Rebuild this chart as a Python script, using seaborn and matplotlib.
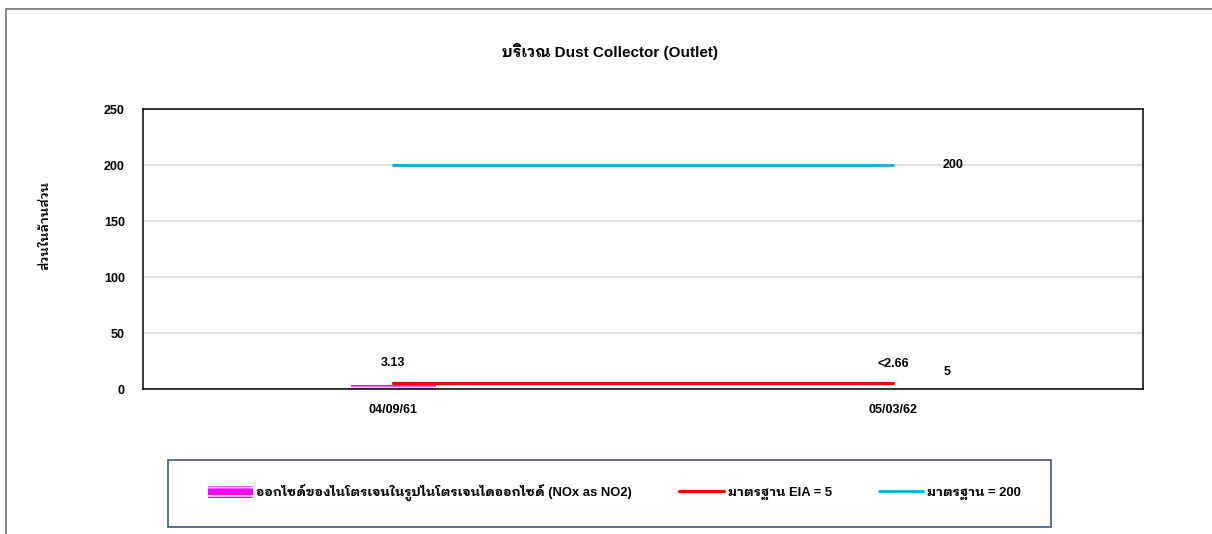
import numpy as np
import pandas as pd
import matplotlib
matplotlib.use("Agg")
import matplotlib.pyplot as plt
from matplotlib.lines import Line2D
from matplotlib.patches import Rectangle
import seaborn as sns

# data
dates = ["04/09/61", "05/03/62"]
nox_values = [3.13, np.nan]          # second sample was below detection limit
nox_labels = ["3.13", "<2.66"]
eia_limit = [5, 5]
std_limit = [200, 200]

title = "บริเวณ Dust Collector (Outlet)"
ylabel = "ส่วนในล้านส่วน"
nox_name = "ออกไซด์ของไนโตรเจนในรูปไนโตรเจนไดออกไซด์ (NOx as NO2)"
eia_name = "มาตรฐาน EIA = 5"
std_name = "มาตรฐาน = 200"
yticks = [0, 50, 100, 150, 200, 250]

sns.set_theme(style="white")
plt.rcParams["font.family"] = ["Liberation Sans", "IBM Plex Sans Thai Looped", "Noto Sans Thai Looped", "DejaVu Sans"]
plt.rcParams["text.color"] = "black"
plt.rcParams["xtick.color"] = "black"
plt.rcParams["ytick.color"] = "black"
plt.rcParams["hatch.linewidth"] = 1.2

fig = plt.figure(figsize=(12.12, 5.34), dpi=100)
ax = fig.add_axes([143 / 1212, 1 - 389 / 534, 1000 / 1212, 280 / 534])

df = pd.DataFrame({"date": dates, "nox": nox_values})
pos = np.arange(len(dates))

sns.barplot(data=df, x="date", y="nox", ax=ax, color="#FF00FF", saturation=1,
            width=0.17, edgecolor="white", linewidth=0, hatch="--", label=nox_name)
sns.lineplot(x=pos, y=eia_limit, ax=ax, color="#FF0000", linewidth=2.3, label=eia_name)
sns.lineplot(x=pos, y=std_limit, ax=ax, color="#00B0F0", linewidth=2.0, label=std_name)

handles, labels = ax.get_legend_handles_labels()
order = [labels.index(n) for n in (nox_name, eia_name, std_name)]
handles = [handles[i] for i in order]
labels = [labels[i] for i in order]
if ax.get_legend() is not None:
    ax.get_legend().remove()

# value labels
for i, (v, lab) in enumerate(zip(nox_values, nox_labels)):
    base = v if not np.isnan(v) else 2.66
    ax.annotate(lab, (pos[i], base), xytext=(0, 16), textcoords="offset points",
                ha="center", va="center", fontsize=9, fontweight="bold")
ax.annotate(str(std_limit[-1]), (pos[-1], std_limit[-1]), xytext=(43, 0),
            textcoords="offset points", ha="center", va="center", fontsize=9, fontweight="bold")
ax.annotate(str(eia_limit[-1]), (pos[-1], eia_limit[-1]), xytext=(39, 8),
            textcoords="offset points", ha="center", va="center", fontsize=9, fontweight="bold")

ax.set_xlim(-0.5, len(dates) - 0.5)
ax.set_ylim(0, 250)
ax.set_yticks(yticks)
ax.set_yticklabels([str(t) for t in yticks], fontsize=9, fontweight="bold")
ax.set_xticks(pos)
ax.set_xticklabels(dates, fontsize=9, fontweight="bold")
ax.tick_params(axis="y", length=0, pad=13)
ax.tick_params(axis="x", length=0, pad=11)
ax.set_xlabel("")
ax.set_ylabel("")
ax.yaxis.grid(True, color="#D9D9D9", linewidth=1.2)
ax.set_axisbelow(True)
for s in ax.spines.values():
    s.set_color("black")
    s.set_linewidth(1.1)

fig.text(0.503, 1 - 52 / 534, title, ha="center", va="center", fontsize=11, fontweight="bold")
fig.text(45 / 1212, 1 - 225 / 534, ylabel, rotation=90, ha="center", va="center",
         fontsize=9.5, fontweight="semibold")

# legend box
fig.add_artist(Rectangle((168 / 1212, 1 - 527 / 534), 883 / 1212, 67 / 534,
                         transform=fig.transFigure, fill=False, edgecolor="#4A6491", linewidth=1.3))
fig.legend(handles, labels, loc="center", bbox_to_anchor=(0.507, 1 - 493 / 534), ncol=3,
           frameon=False, handlelength=3.4, handleheight=1.1, handletextpad=0.3,
           columnspacing=3.6, prop={"weight": "bold", "size": 9.4})

# outer frame of the chart area
fig.add_artist(Line2D([6 / 1212, 6 / 1212], [0, 1 - 9 / 534], transform=fig.transFigure,
                      color="#7F7F7F", linewidth=1.3))
fig.add_artist(Line2D([6 / 1212, 1], [1 - 9 / 534, 1 - 9 / 534], transform=fig.transFigure,
                      color="#7F7F7F", linewidth=1.3))

fig.savefig("out.png", dpi=100)
